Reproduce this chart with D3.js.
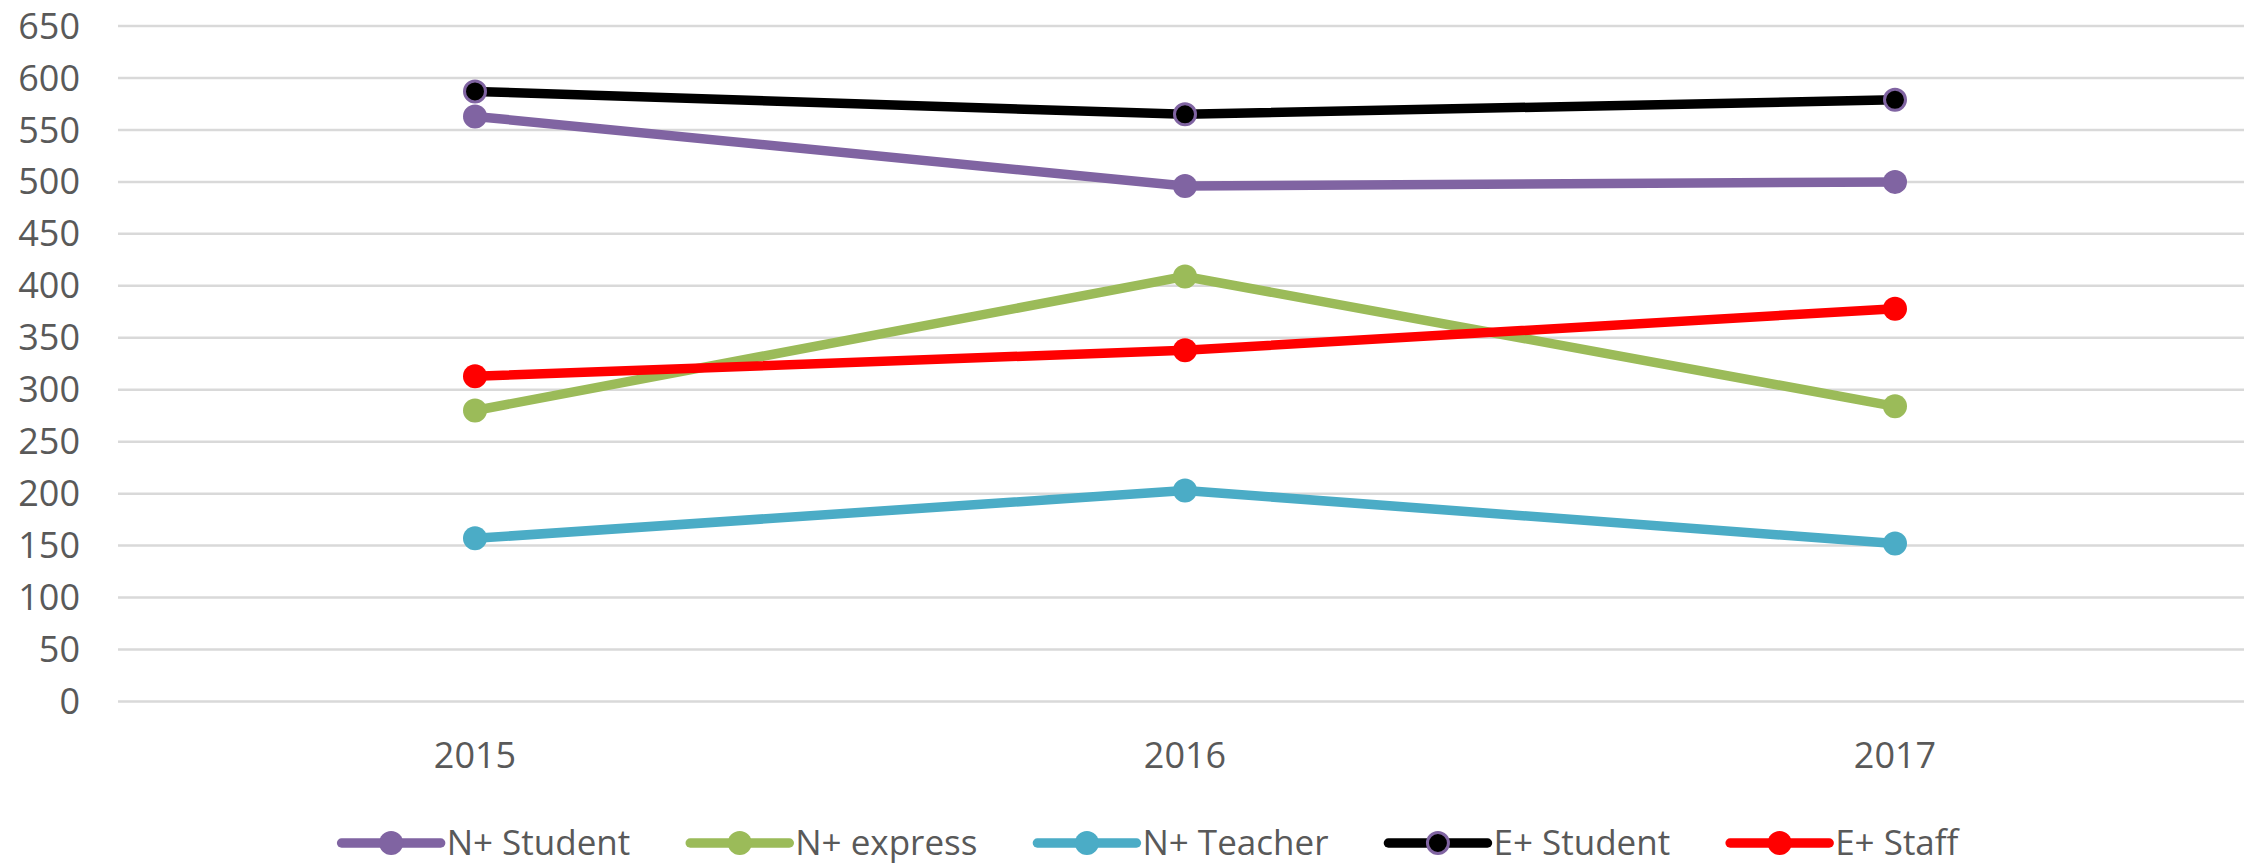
<!DOCTYPE html>
<html>
<head>
<meta charset="utf-8">
<script src="https://cdn.jsdelivr.net/npm/d3@7"></script>
<style>
	body { margin: 0; background: #fff; }
	text { font-family: "Open Sans", sans-serif; fill: #595959; }
</style>
</head>
<body>
<svg id="chart" width="2244" height="866"></svg>
<script>
// values
var years = ['2015', '2016', '2017'];
var yTicks = [0, 50, 100, 150, 200, 250, 300, 350, 400, 450, 500, 550, 600, 650];
var seriesNames = ['N+ Student', 'N+ express', 'N+ Teacher', 'E+ Student', 'E+ Staff'];
var nStudent = [563, 496, 500];
var nExpress = [280, 409, 284];
var nTeacher = [157, 203, 152];
var eStudent = [587, 565, 579];
var eStaff = [313, 338, 378];

var colors = ['#8064A2', '#9BBB59', '#4BACC6', '#000000', '#FF0000'];
var markerStroke = [null, null, null, '#8064A2', null];
var values = [nStudent, nExpress, nTeacher, eStudent, eStaff];

var svg = d3.select('#chart');

var x = d3.scaleBand().domain(years).range([120, 2250]).padding(0);
var y = d3.scaleLinear().domain([0, 650]).range([701.5, 26]);

// grid
svg.append('g')
	.selectAll('line')
	.data(yTicks)
	.enter().append('line')
		.attr('x1', 118)
		.attr('x2', 2244)
		.attr('y1', (d) => y(d))
		.attr('y2', (d) => y(d))
		.attr('stroke', '#d9d9d9')
		.attr('stroke-width', 2.5);

// y labels
svg.append('g')
	.selectAll('text')
	.data(yTicks)
	.enter().append('text')
		.attr('x', 80)
		.attr('y', (d) => y(d))
		.attr('dy', '0.35em')
		.attr('text-anchor', 'end')
		.style('font-size', '36px')
		.text((d) => d);

// x labels
svg.append('g')
	.selectAll('text')
	.data(years)
	.enter().append('text')
		.attr('x', (d) => x(d) + x.bandwidth() / 2)
		.attr('y', 768)
		.attr('text-anchor', 'middle')
		.style('font-size', '36px')
		.text((d) => d);

var line = d3.line()
	.x((d, i) => x(years[i]) + x.bandwidth() / 2)
	.y((d) => y(d));

var series = svg.append('g')
	.selectAll('g')
	.data(values)
	.enter().append('g');

series.append('path')
	.attr('d', (d) => line(d))
	.attr('fill', 'none')
	.attr('stroke', (d, i) => colors[i])
	.attr('stroke-width', 9.5)
	.attr('stroke-linejoin', 'round')
	.attr('stroke-linecap', 'round');

series.each(function (d, i) {
	d3.select(this).selectAll('circle')
		.data(d)
		.enter().append('circle')
			.attr('cx', (v, j) => x(years[j]) + x.bandwidth() / 2)
			.attr('cy', (v) => y(v))
			.attr('r', markerStroke[i] ? 10.5 : 12)
			.attr('fill', colors[i])
			.attr('stroke', markerStroke[i] || 'none')
			.attr('stroke-width', 3);
});

// legend
var legend = svg.append('g');
var items = legend.selectAll('g')
	.data(seriesNames)
	.enter().append('g');

items.append('line')
	.attr('x1', 0).attr('x2', 99)
	.attr('y1', 0).attr('y2', 0)
	.attr('stroke', (d, i) => colors[i])
	.attr('stroke-width', 9.5)
	.attr('stroke-linecap', 'round');
items.append('circle')
	.attr('cx', 49.5).attr('cy', 0)
	.attr('r', (d, i) => markerStroke[i] ? 10.5 : 12)
	.attr('fill', (d, i) => colors[i])
	.attr('stroke', (d, i) => markerStroke[i] || 'none')
	.attr('stroke-width', 3);
items.append('text')
	.attr('x', 105)
	.attr('y', 12)
	.style('font-size', '35px')
	.text((d) => d);

var pos = 0, offsets = [];
items.each(function (d, i) {
	offsets.push(pos);
	pos += 105 + this.querySelector('text').getComputedTextLength() + 60;
});
var total = pos - 60;
var startX = 1150 - total / 2;
items.attr('transform', (d, i) => 'translate(' + (startX + offsets[i]) + ',843)');
</script>
</body>
</html>
